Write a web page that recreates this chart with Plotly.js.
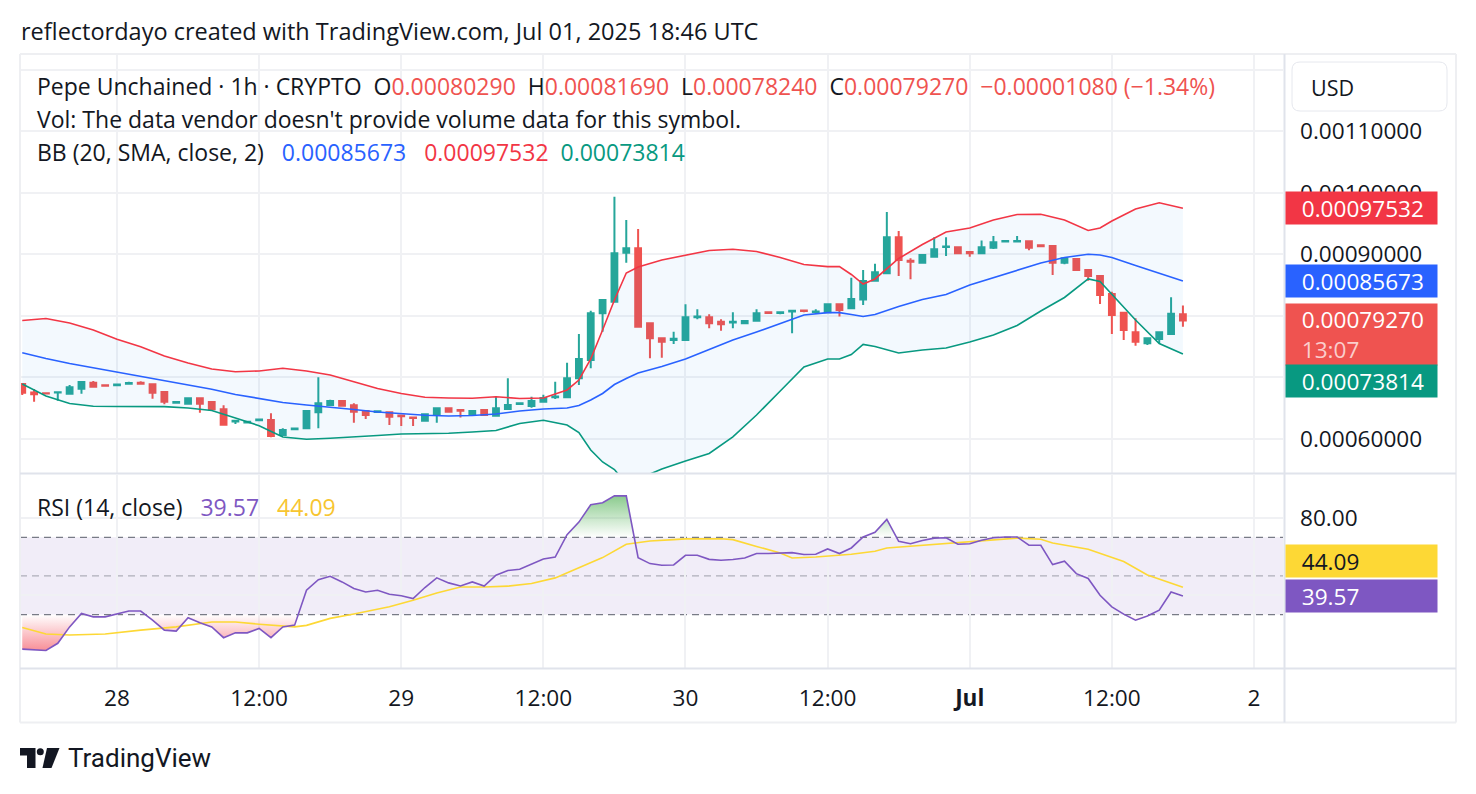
<!DOCTYPE html>
<html>
<head>
<meta charset="utf-8">
<script src="https://cdn.plot.ly/plotly-3.0.1.min.js"></script>
<style>
  html, body { margin: 0; padding: 0; background: #ffffff; }
  #chart { width: 1476px; height: 794px; }
</style>
</head>
<body>
<div id="chart"></div>
<script>
// Pepe Unchained, 1h candles from Jun 27 2025 16:00 UTC to Jul 01 2025 18:00 UTC
const firstBarUTC = Date.UTC(2025, 5, 27, 16);
const HOUR = 3600000;

const opens = [
  0.0006894, 0.0006755, 0.0006745, 0.0006755, 0.0006737, 0.0006818, 0.0006916, 0.0006875, 0.0006875, 0.0006900,
  0.0006915, 0.0006889, 0.0006764, 0.0006590, 0.0006574, 0.0006662, 0.0006602, 0.0006483, 0.0006285, 0.0006270,
  0.0006305, 0.0006309, 0.0006065, 0.0006160, 0.0006174, 0.0006435, 0.0006553, 0.0006618, 0.0006548, 0.0006455,
  0.0006440, 0.0006434, 0.0006380, 0.0006350, 0.0006298, 0.0006390, 0.0006499, 0.0006470, 0.0006400, 0.0006471,
  0.0006379, 0.0006488, 0.0006570, 0.0006537, 0.0006607, 0.0006680, 0.0006678, 0.0006987, 0.0007285, 0.0008044,
  0.0008233, 0.0009029, 0.0009100, 0.0007881, 0.0007637, 0.0007610, 0.0007610, 0.0007980, 0.0007979, 0.0007907,
  0.0007895, 0.0007880, 0.0007924, 0.0008060, 0.0008050, 0.0008075, 0.0008090, 0.0008065, 0.0008060, 0.0008190,
  0.0008125, 0.0008270, 0.0008574, 0.0008694, 0.0009280, 0.0008900, 0.0008867, 0.0008964, 0.0009120, 0.0009117,
  0.0009040, 0.0009019, 0.0009110, 0.0009210, 0.0009210, 0.0009215, 0.0009150, 0.0009138, 0.0008867, 0.0008927,
  0.0008748, 0.0008650, 0.0008358, 0.0008054, 0.0007735, 0.0007556, 0.0007626, 0.0007707, 0.0008029
];
const highs = [
  0.0006910, 0.0006813, 0.0006755, 0.0006765, 0.0006878, 0.0006935, 0.0006943, 0.0006880, 0.0006890, 0.0006930,
  0.0006940, 0.0006900, 0.0006770, 0.0006605, 0.0006670, 0.0006670, 0.0006610, 0.0006548, 0.0006305, 0.0006285,
  0.0006320, 0.0006418, 0.0006174, 0.0006175, 0.0006460, 0.0007003, 0.0006640, 0.0006625, 0.0006580, 0.0006470,
  0.0006455, 0.0006440, 0.0006385, 0.0006355, 0.0006405, 0.0006505, 0.0006510, 0.0006475, 0.0006470, 0.0006475,
  0.0006699, 0.0006987, 0.0006585, 0.0006688, 0.0006720, 0.0006932, 0.0007241, 0.0007707, 0.0008086, 0.0008276,
  0.0009940, 0.0009561, 0.0009415, 0.0007900, 0.0007650, 0.0007745, 0.0008190, 0.0008109, 0.0008028, 0.0007946,
  0.0008060, 0.0007925, 0.0008110, 0.0008065, 0.0008065, 0.0008090, 0.0008095, 0.0008110, 0.0008195, 0.0008195,
  0.0008623, 0.0008748, 0.0008850, 0.0009691, 0.0009382, 0.0008938, 0.0009010, 0.0009280, 0.0009280, 0.0009125,
  0.0009045, 0.0009228, 0.0009300, 0.0009225, 0.0009300, 0.0009220, 0.0009165, 0.0009145, 0.0008945, 0.0008940,
  0.0008755, 0.0008660, 0.0008395, 0.0008060, 0.0007963, 0.0007640, 0.0007740, 0.0008304, 0.0008169
];
const lows = [
  0.0006715, 0.0006607, 0.0006735, 0.0006623, 0.0006730, 0.0006737, 0.0006841, 0.0006860, 0.0006870, 0.0006895,
  0.0006890, 0.0006655, 0.0006564, 0.0006585, 0.0006570, 0.0006428, 0.0006470, 0.0006230, 0.0006245, 0.0006265,
  0.0006300, 0.0006028, 0.0006060, 0.0006155, 0.0006170, 0.0006174, 0.0006545, 0.0006535, 0.0006266, 0.0006325,
  0.0006435, 0.0006228, 0.0006210, 0.0006210, 0.0006295, 0.0006266, 0.0006440, 0.0006350, 0.0006395, 0.0006385,
  0.0006375, 0.0006485, 0.0006565, 0.0006509, 0.0006600, 0.0006650, 0.0006670, 0.0006878, 0.0007150, 0.0007745,
  0.0008230, 0.0008867, 0.0007820, 0.0007312, 0.0007323, 0.0007545, 0.0007600, 0.0007946, 0.0007800, 0.0007761,
  0.0007800, 0.0007875, 0.0007920, 0.0008045, 0.0008030, 0.0007719, 0.0008060, 0.0008060, 0.0008055, 0.0007990,
  0.0008120, 0.0008179, 0.0008570, 0.0008690, 0.0008650, 0.0008597, 0.0008860, 0.0008960, 0.0008976, 0.0009015,
  0.0008964, 0.0009015, 0.0009090, 0.0009205, 0.0009205, 0.0009070, 0.0009120, 0.0008667, 0.0008840, 0.0008745,
  0.0008574, 0.0008195, 0.0007707, 0.0007610, 0.0007517, 0.0007528, 0.0007556, 0.0007700, 0.0007824
];
const closes = [
  0.0006753, 0.0006727, 0.0006740, 0.0006762, 0.0006841, 0.0006927, 0.0006850, 0.0006865, 0.0006885, 0.0006910,
  0.0006900, 0.0006753, 0.0006607, 0.0006600, 0.0006662, 0.0006574, 0.0006483, 0.0006233, 0.0006295, 0.0006280,
  0.0006315, 0.0006049, 0.0006146, 0.0006170, 0.0006455, 0.0006580, 0.0006618, 0.0006542, 0.0006444, 0.0006390,
  0.0006450, 0.0006363, 0.0006370, 0.0006340, 0.0006402, 0.0006499, 0.0006444, 0.0006460, 0.0006455, 0.0006390,
  0.0006499, 0.0006553, 0.0006580, 0.0006618, 0.0006667, 0.0006690, 0.0006987, 0.0007301, 0.0008044, 0.0008260,
  0.0009019, 0.0009100, 0.0007826, 0.0007637, 0.0007582, 0.0007630, 0.0007979, 0.0007990, 0.0007881, 0.0007865,
  0.0007907, 0.0007920, 0.0008044, 0.0008050, 0.0008060, 0.0008085, 0.0008080, 0.0008075, 0.0008190, 0.0008098,
  0.0008276, 0.0008569, 0.0008710, 0.0009280, 0.0008911, 0.0008880, 0.0008992, 0.0009085, 0.0009130, 0.0009019,
  0.0009020, 0.0009117, 0.0009198, 0.0009220, 0.0009220, 0.0009110, 0.0009135, 0.0008867, 0.0008938, 0.0008748,
  0.0008650, 0.0008341, 0.0008016, 0.0007772, 0.0007582, 0.0007637, 0.0007735, 0.0008035, 0.0007927
];

// Bollinger Bands (20, SMA, close, 2), read at these bar indices
const bandBars = [
  0, 2, 4, 6, 8, 10, 12, 14, 16, 18, 20, 22, 24, 26, 28, 30, 32, 34, 36, 38, 40, 42, 44,
  46, 47, 48, 49, 50, 51, 52, 54, 56, 58, 60, 62, 64, 66, 68, 69, 70, 71, 72,
  74, 76, 78, 80, 82, 84, 86, 88, 90, 91, 92, 94, 96, 98
];
const bbUpper = [
  0.0007927, 0.0007959, 0.0007886, 0.0007772, 0.0007621, 0.0007499, 0.0007350, 0.0007236, 0.0007138, 0.0007094,
  0.0007106, 0.0007150, 0.0007106, 0.0007041, 0.0006932, 0.0006821, 0.0006740, 0.0006678, 0.0006667, 0.0006662,
  0.0006688, 0.0006659, 0.0006667,
  0.0006797, 0.0006959, 0.0007301, 0.0007772, 0.0008260, 0.0008699, 0.0008797,
  0.0008911, 0.0008992, 0.0009065, 0.0009085, 0.0009049, 0.0008951, 0.0008837, 0.0008802,
  0.0008802, 0.0008675, 0.0008520, 0.0008602,
  0.0008935, 0.0009163, 0.0009366, 0.0009431, 0.0009561, 0.0009650, 0.0009654, 0.0009561, 0.0009390,
  0.0009431, 0.0009545, 0.0009740, 0.0009841, 0.00097532
];
const bbBasis = [
  0.0007403, 0.0007309, 0.0007228, 0.0007158, 0.0007078, 0.0007020, 0.0006943, 0.0006870, 0.0006808, 0.0006724,
  0.0006662, 0.0006594, 0.0006553, 0.0006520, 0.0006480, 0.0006439, 0.0006407, 0.0006385, 0.0006374, 0.0006382,
  0.0006407, 0.0006455, 0.0006488,
  0.0006504, 0.0006545, 0.0006634, 0.0006740, 0.0006886, 0.0006984, 0.0007073,
  0.0007179, 0.0007301, 0.0007455, 0.0007610, 0.0007740, 0.0007878, 0.0008016, 0.0008054,
  0.0008054, 0.0008024, 0.0007992, 0.0008024,
  0.0008154, 0.0008268, 0.0008350, 0.0008504, 0.0008626, 0.0008748, 0.0008862, 0.0008951, 0.0009003,
  0.0008992, 0.0008951, 0.0008821, 0.0008699, 0.00085673
];
const bbLower = [
  0.0006894, 0.0006699, 0.0006577, 0.0006532, 0.0006528, 0.0006533, 0.0006527, 0.0006504, 0.0006463, 0.0006341,
  0.0006216, 0.0006033, 0.0005995, 0.0006011, 0.0006028, 0.0006057, 0.0006081, 0.0006086, 0.0006093, 0.0006114,
  0.0006138, 0.0006252, 0.0006304,
  0.0006228, 0.0006106, 0.0005821, 0.0005626, 0.0005504, 0.0005269, 0.0005349,
  0.0005512, 0.0005642, 0.0005764, 0.0006033, 0.0006390, 0.0006780, 0.0007171, 0.0007301,
  0.0007301, 0.0007374, 0.0007537, 0.0007504,
  0.0007398, 0.0007447, 0.0007480, 0.0007577, 0.0007691, 0.0007846, 0.0008081, 0.0008301, 0.0008602,
  0.0008561, 0.0008358, 0.0007935, 0.0007553, 0.00073814
];

// RSI (14, close), one value per bar
const rsi = [
  12.1, 11.8, 11.4, 15.1, 23.6, 30.6, 28.8, 28.8, 30.2, 31.8,
  31.8, 27.1, 21.9, 21.4, 28.3, 25.7, 23.6, 18.0, 20.5, 20.5,
  22.8, 18.0, 23.6, 24.5, 42.6, 48.1, 49.8, 46.9, 43.5, 41.7,
  42.6, 40.5, 39.7, 38.3, 44.0, 49.0, 46.4, 44.8, 46.9, 44.8,
  50.4, 52.8, 53.5, 56.0, 58.8, 59.8, 71.4, 77.9, 86.9, 87.9,
  91.5, 91.5, 59.5, 56.4, 55.5, 55.7, 60.7, 60.7, 58.6, 58.1,
  58.5, 59.3, 61.6, 61.6, 61.9, 62.1, 61.1, 61.2, 64.0, 61.6,
  64.5, 70.2, 72.6, 79.3, 67.9, 66.7, 68.4, 69.6, 69.8, 66.4,
  66.7, 68.5, 69.8, 70.2, 70.2, 65.9, 65.9, 55.9, 57.6, 51.2,
  48.7, 40.0, 34.0, 30.2, 27.1, 29.2, 32.3, 41.7, 39.57
];
// RSI-based moving average, read at these bar indices
const rsiMaBars = [
  0, 2, 4, 7, 10, 13, 16, 18, 20, 22, 23, 24, 26, 28, 31, 33, 35, 37, 39, 41,
  43, 45, 47, 49, 51, 53, 55, 56, 59, 60, 62, 64, 65, 67, 70, 72, 73, 76, 80, 83,
  84, 86, 87, 90, 93, 95, 98
];
const rsiMa = [
  23.3, 19.9, 19.4, 19.9, 21.9, 23.6, 26.1, 26.1, 25.0, 24.0, 23.6, 24.4, 28.0, 30.3, 34.0, 37.4, 41.2, 44.3, 44.3, 44.7,
  46.1, 49.0, 54.3, 59.5, 66.4, 68.1, 68.8, 69.2, 69.3, 68.8, 65.3, 61.9, 59.3, 59.8, 61.2, 62.8, 64.5, 65.9, 67.6, 69.3,
  69.6, 69.0, 67.1, 63.8, 57.5, 50.5, 44.09
];

const priceTicks = [0.0006, 0.0007, 0.0008, 0.0009, 0.0010, 0.0011, 0.0012];
const priceTickText = ['0.00060000', '', '', '0.00090000', '0.00100000', '0.00110000', ''];
const rsiTicks = [40, 80];
const rsiTickText = ['', '80.00'];
const timeTicks = ['2025-06-28 00:00', '2025-06-28 12:00', '2025-06-29 00:00', '2025-06-29 12:00',
  '2025-06-30 00:00', '2025-06-30 12:00', '2025-07-01 00:00', '2025-07-01 12:00', '2025-07-02 00:00'];
const timeTickText = ['28', '12:00', '29', '12:00', '30', '12:00', '<b>Jul</b>', '12:00', '2'];

// ---- drawing ----
const FONT = '"Open Sans", "Noto Sans", sans-serif';
const LOGO_FONT = 'Roboto, "Liberation Sans", sans-serif';
const INK = '#131722';
const UP = '#26a69a', DOWN = '#ef5350';
const W = 1476, H = 794;
const PL = 20, PR = 1283, PT = 54, PB = 668;
const AXIS_SIZE = 22.6, TEXT_SIZE = 23;
const px = x => (x - PL) / (PR - PL);
const py = y => (PB - y) / (PB - PT);

const barTime = i => firstBarUTC + i * HOUR;
const barX = opens.map((_, i) => barTime(i));
const bandX = bandBars.map(barTime);
const maX = rsiMaBars.map(barTime);

function clipAt(xs, ys, level, keepAbove) {
  const ox = [], oy = [];
  for (let i = 0; i < xs.length; i++) {
    const y = ys[i];
    if (i > 0) {
      const y0 = ys[i - 1];
      if ((y0 - level) * (y - level) < 0) {
        const f = (level - y0) / (y - y0);
        ox.push(xs[i - 1] + f * (xs[i] - xs[i - 1]));
        oy.push(level);
      }
    }
    ox.push(xs[i]);
    oy.push(keepAbove ? Math.max(y, level) : Math.min(y, level));
  }
  return { x: ox, y: oy };
}
const ob = clipAt(barX, rsi, 70, true);
const os = clipAt(barX, rsi, 30, false);

const traces = [
  // band fill
  { type: 'scatter', mode: 'lines', x: bandX, y: bbUpper, line: { width: 0 }, hoverinfo: 'skip', xaxis: 'x', yaxis: 'y' },
  { type: 'scatter', mode: 'lines', x: bandX, y: bbLower, line: { width: 0 }, fill: 'tonexty',
    fillcolor: 'rgba(33,150,243,0.055)', hoverinfo: 'skip', xaxis: 'x', yaxis: 'y' },
  // candles
  { type: 'candlestick', x: barX, open: opens, high: highs, low: lows, close: closes,
    increasing: { line: { color: UP, width: 2 }, fillcolor: UP },
    decreasing: { line: { color: DOWN, width: 2 }, fillcolor: DOWN },
    whiskerwidth: 0, hoverinfo: 'skip', xaxis: 'x', yaxis: 'y' },
  // band lines
  { type: 'scatter', mode: 'lines', x: bandX, y: bbUpper, line: { color: '#f23645', width: 1.6 }, hoverinfo: 'skip', xaxis: 'x', yaxis: 'y' },
  { type: 'scatter', mode: 'lines', x: bandX, y: bbBasis, line: { color: '#2962ff', width: 1.6 }, hoverinfo: 'skip', xaxis: 'x', yaxis: 'y' },
  { type: 'scatter', mode: 'lines', x: bandX, y: bbLower, line: { color: '#089981', width: 1.6 }, hoverinfo: 'skip', xaxis: 'x', yaxis: 'y' },
  // overbought gradient
  { type: 'scatter', mode: 'lines', x: ob.x, y: ob.x.map(() => 70), line: { width: 0 }, hoverinfo: 'skip', xaxis: 'x', yaxis: 'y2' },
  { type: 'scatter', mode: 'lines', x: ob.x, y: ob.y, line: { width: 0 }, fill: 'tonexty',
    fillgradient: { type: 'vertical', start: 70, stop: 100,
      colorscale: [[0, 'rgba(76,175,80,0)'], [1, 'rgba(76,175,80,0.9)']] },
    hoverinfo: 'skip', xaxis: 'x', yaxis: 'y2' },
  // oversold gradient
  { type: 'scatter', mode: 'lines', x: os.x, y: os.x.map(() => 30), line: { width: 0 }, hoverinfo: 'skip', xaxis: 'x', yaxis: 'y2' },
  { type: 'scatter', mode: 'lines', x: os.x, y: os.y, line: { width: 0 }, fill: 'tonexty',
    fillgradient: { type: 'vertical', start: 0, stop: 30,
      colorscale: [[0, 'rgba(242,54,69,0.9)'], [1, 'rgba(242,54,69,0)']] },
    hoverinfo: 'skip', xaxis: 'x', yaxis: 'y2' },
  // RSI + MA
  { type: 'scatter', mode: 'lines', x: maX, y: rsiMa, line: { color: '#fdd835', width: 1.6 }, hoverinfo: 'skip', xaxis: 'x', yaxis: 'y2' },
  { type: 'scatter', mode: 'lines', x: barX, y: rsi, line: { color: '#7e57c2', width: 1.6 }, hoverinfo: 'skip', xaxis: 'x', yaxis: 'y2' }
];

const lineShape = (x0, y0, x1, y1, color, width, dash) => ({
  type: 'line', xref: 'paper', yref: 'paper', x0: px(x0), y0: py(y0), x1: px(x1), y1: py(y1),
  line: { color: color, width: width, dash: dash || 'solid' }, layer: 'above'
});
const rsiLevel = (v, color) => ({
  type: 'line', xref: 'paper', yref: 'y2', x0: 0, x1: 1, y0: v, y1: v,
  line: { color: color, width: 1.3, dash: '7px,5px' }, layer: 'below'
});
function polyPath(pts) {
  return 'M ' + pts.map(p => px(p[0]) + ',' + py(p[1])).join(' L ') + ' Z';
}
function roundRectPath(x0, y0, x1, y1, r) {
  const P = (x, y) => px(x) + ',' + py(y);
  return 'M ' + P(x0 + r, y0) + ' L ' + P(x1 - r, y0) + ' Q ' + P(x1, y0) + ' ' + P(x1, y0 + r) +
    ' L ' + P(x1, y1 - r) + ' Q ' + P(x1, y1) + ' ' + P(x1 - r, y1) +
    ' L ' + P(x0 + r, y1) + ' Q ' + P(x0, y1) + ' ' + P(x0, y1 - r) +
    ' L ' + P(x0, y0 + r) + ' Q ' + P(x0, y0) + ' ' + P(x0 + r, y0) + ' Z';
}

const shapes = [
  // RSI channel
  { type: 'rect', xref: 'paper', yref: 'y2', x0: 0, x1: 1, y0: 30, y1: 70,
    fillcolor: 'rgba(126,87,194,0.11)', line: { width: 0 }, layer: 'below' },
  rsiLevel(70, '#787b86'), rsiLevel(50, 'rgba(120,123,134,0.55)'), rsiLevel(30, '#787b86'),
  // frame
  lineShape(20, 54, 1456, 54, '#eeeff2', 2),
  lineShape(20, 722.5, 1456, 722.5, '#eeeff2', 2),
  lineShape(20, 54, 20, 722.5, '#eeeff2', 2),
  lineShape(1456, 54, 1456, 722.5, '#eeeff2', 2),
  lineShape(1284.5, 54, 1284.5, 722.5, '#e0e3eb', 2),
  lineShape(20, 473.5, 1456, 473.5, '#e0e3eb', 2),
  lineShape(20, 668.5, 1456, 668.5, '#e0e3eb', 2),
  // currency box
  { type: 'path', xref: 'paper', yref: 'paper', path: roundRectPath(1292, 62, 1447, 111, 8),
    line: { color: '#e6e8ee', width: 1 }, fillcolor: '#ffffff', layer: 'above' },
  // logo mark
  { type: 'path', xref: 'paper', yref: 'paper', fillcolor: '#131722', line: { width: 0 }, layer: 'above',
    path: polyPath([[20, 748], [35.5, 748], [35.5, 768], [27, 768], [27, 755.5], [20, 755.5]]) },
  { type: 'circle', xref: 'paper', yref: 'paper', fillcolor: '#131722', line: { width: 0 }, layer: 'above',
    x0: px(36.8), x1: px(43.8), y0: py(755.2), y1: py(748.2) },
  { type: 'path', xref: 'paper', yref: 'paper', fillcolor: '#131722', line: { width: 0 }, layer: 'above',
    path: polyPath([[47, 748], [59.5, 748], [51.5, 768], [42.5, 768]]) }
];

const txt = (x, y, text, size, color, extra) => Object.assign({
  xref: 'paper', yref: 'paper', x: px(x), y: py(y), xanchor: 'left', yanchor: 'middle',
  text: text, showarrow: false, font: { family: FONT, size: size, color: color || INK }
}, extra || {});
const sp = n => '\u00a0'.repeat(n);
const red = s => '<span style="color:' + DOWN + '">' + s + '</span>';
const fmt = v => v.toFixed(8);
const last = closes.length - 1;
const chg = closes[last] - closes[last - 1];

const annotations = [
  txt(19, 31, 'reflectordayo created with TradingView.com, Jul 01, 2025 18:46 UTC', 23.5),
  txt(35, 86, 'Pepe Unchained · 1h · CRYPTO' + sp(2) + 'O' + red(fmt(opens[last])) + sp(2) + 'H' + red(fmt(highs[last])) +
    sp(2) + 'L' + red(fmt(lows[last])) + sp(2) + 'C' + red(fmt(closes[last])) + sp(2) +
    red('\u2212' + fmt(Math.abs(chg)) + ' (\u2212' + (Math.abs(chg) / closes[last - 1] * 100).toFixed(2) + '%)'), TEXT_SIZE),
  txt(35, 119, 'Vol: The data vendor doesn\'t provide volume data for this symbol.', TEXT_SIZE),
  txt(35, 152, 'BB (20, SMA, close, 2)' + sp(3) + '<span style="color:#2962ff">' + fmt(bbBasis[bbBasis.length - 1]) + '</span>' + sp(3) +
    '<span style="color:#f23645">' + fmt(bbUpper[bbUpper.length - 1]) + '</span>' + sp(2) +
    '<span style="color:#089981">' + fmt(bbLower[bbLower.length - 1]) + '</span>', TEXT_SIZE),
  txt(35, 507, 'RSI (14, close)' + sp(3) + '<span style="color:#7e57c2">' + rsi[rsi.length - 1].toFixed(2) + '</span>' + sp(3) +
    '<span style="color:#f7c531">' + rsiMa[rsiMa.length - 1].toFixed(2) + '</span>', TEXT_SIZE),
  txt(1309, 87, 'USD', 21.5),
  Object.assign(txt(66, 758, 'TradingView', 26), { font: { family: LOGO_FONT, size: 26, color: INK } })
];

const tag = (yref, y, text, bg, color, yshift) => ({
  xref: 'paper', x: 1, xshift: 1.5, xanchor: 'left', yref: yref, y: y, yanchor: 'middle', yshift: yshift || 0,
  text: sp(2) + text, align: 'left', width: 143, height: 24, borderpad: 4, bgcolor: bg, showarrow: false,
  font: { family: FONT, size: AXIS_SIZE, color: color }
});
annotations.push(
  tag('y', bbUpper[bbUpper.length - 1], fmt(bbUpper[bbUpper.length - 1]), '#f23645', '#ffffff', 0),
  tag('y', bbBasis[bbBasis.length - 1], fmt(bbBasis[bbBasis.length - 1]), '#2962ff', '#ffffff', 0),
  Object.assign(tag('y', closes[last],
    fmt(closes[last]) + '<br>' + sp(2) + '<span style="color:rgba(255,255,255,0.72)">13:07</span>', DOWN, '#ffffff', 17.5),
    { yanchor: 'top', height: 53, valign: 'middle' }),
  tag('y', bbLower[bbLower.length - 1], fmt(bbLower[bbLower.length - 1]), '#089981', '#ffffff', -27),
  tag('y2', rsiMa[rsiMa.length - 1], rsiMa[rsiMa.length - 1].toFixed(2), '#fdd835', INK, 26),
  tag('y2', rsi[rsi.length - 1], rsi[rsi.length - 1].toFixed(2), '#7e57c2', '#ffffff', 0)
);

const layout = {
  width: W, height: H,
  margin: { l: PL, r: W - PR, t: PT, b: H - PB },
  paper_bgcolor: '#ffffff', plot_bgcolor: '#ffffff',
  showlegend: false, hovermode: false, dragmode: false,
  font: { family: FONT, color: INK },
  xaxis: {
    type: 'date', anchor: 'y2', range: ['2025-06-27 15:48:36', '2025-07-02 02:27:00'],
    tickvals: timeTicks, ticktext: timeTickText, tickfont: { family: FONT, size: AXIS_SIZE, color: INK },
    ticks: '', ticklabelstandoff: 14, showgrid: true, gridcolor: '#f0f1f4', gridwidth: 2,
    zeroline: false, showline: false, rangeslider: { visible: false }
  },
  yaxis: {
    domain: [py(473), 1], range: [0.0005447, 0.001226], side: 'right', anchor: 'x',
    tickvals: priceTicks, ticktext: priceTickText, tickfont: { family: FONT, size: AXIS_SIZE, color: INK },
    ticks: '', ticklabelstandoff: 16, showgrid: true, gridcolor: '#f0f1f4', gridwidth: 2,
    zeroline: false, showline: false
  },
  yaxis2: {
    domain: [0, py(474.5)], range: [2.3, 102.56], side: 'right', anchor: 'x',
    tickvals: rsiTicks, ticktext: rsiTickText, tickfont: { family: FONT, size: AXIS_SIZE, color: INK },
    ticks: '', ticklabelstandoff: 16, showgrid: true, gridcolor: '#f0f1f4', gridwidth: 2,
    zeroline: false, showline: false
  },
  shapes: shapes,
  annotations: annotations
};

Plotly.newPlot('chart', traces, layout, { displayModeBar: false, staticPlot: true });
</script>
</body>
</html>
